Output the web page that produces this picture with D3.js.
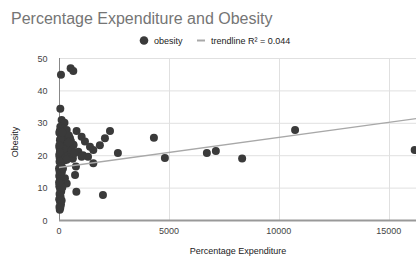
<!DOCTYPE html>
<html>
<head>
<meta charset="utf-8">
<script src="https://cdn.jsdelivr.net/npm/d3@7"></script>
<style>
  html, body { margin: 0; padding: 0; background: #fff; }
  svg { display: block; font-family: "Liberation Sans", Arial, sans-serif; }
</style>
</head>
<body>
<div id="chart"></div>
<script>
// chart data
const expenditure = [
    // top outliers
    90, 530, 650, 60, 120, 250, 60, 180,
    // diagonal strand and scattered mid points
    350, 800, 1030, 1180, 1410, 1560, 1860, 2090, 2320, 2680, 500, 650, 880, 1090, 1320, 1560,
    620, 1030, 730, 770, 790, 2000, 350, 270, 110,
    // dense cluster
    10, 20, 30, 45, 55, 70, 80, 95, 110, 125, 140, 160, 175, 190, 210, 230, 250, 270, 290, 310,
    330, 360, 390, 420, 450, 480, 510, 540, 580, 620, 660, 700, 15, 35, 60, 85, 150, 200, 240,
    350, 440, 15, 25, 40,
    // low column
    5, 20, 40, 10, 60, 30, 80, 15, 50, 100, 25, 70, 10, 45, 90, 20, 35, 120, 150, 5, 130, 60,
    100, 180,
    // far right
    4318, 4818, 6727, 7136, 8332, 10741, 16182
];
const obesity = [
    44.8, 46.8, 46.0, 34.3, 30.9, 30.0, 28.8, 28.2,
    27.8, 27.5, 25.7, 24.2, 22.6, 21.6, 23.1, 25.2, 27.5, 20.7, 25.2, 23.1, 21.1, 20.0, 19.5, 17.5,
    19.0, 19.5, 13.9, 16.5, 8.7, 7.7, 11.3, 12.9, 13.0,
    20.1, 22.4, 19.2, 24.6, 21.3, 18.5, 23.8, 20.7, 25.4, 22.0, 19.6, 24.1, 21.7, 26.3, 18.9, 23.0,
    20.4, 25.8, 22.6, 19.8, 24.9, 21.1, 23.6, 20.0, 26.1, 22.3, 19.4, 24.4, 21.5, 19.0, 23.2, 20.6,
    26.9, 27.5, 25.0, 18.2, 27.0, 21.9, 18.4, 18.6, 23.9, 23.0, 18.0, 21.0,
    16.0, 15.2, 14.4, 13.6, 12.8, 12.0, 11.2, 10.4, 9.6, 8.8, 8.0, 7.2, 6.4, 5.6, 4.8, 4.0, 3.2,
    6.0, 10.0, 11.5, 14.8, 3.8, 16.7, 15.9,
    25.4, 19.1, 20.7, 21.3, 19.0, 27.8, 21.6
];
const xGridTicks = [5000, 10000, 15000, 20000];
const xTickLabels = [0, 5000, 10000, 15000];
const yTicks = [0, 10, 20, 30, 40, 50];
// trendline as shown in the legend
const trendIntercept = 16.2;
const trendSlope = 0.00093;
const trendLabel = 'trendline R\u00b2 = 0.044';

const W = 416, H = 260;
const margin = { left: 59, top: 58, bottom: 40 };
const plotBottom = H - margin.bottom;

// the plot runs past the right edge of the picture, as in the reference
const x = d3.scaleLinear().domain([0, 20000]).range([margin.left, margin.left + 439.6]);
const y = d3.scaleLinear().domain([0, 50]).range([plotBottom, margin.top]);

const svg = d3.select('#chart').append('svg')
    .attr('width', W).attr('height', H);

svg.append('text')
    .attr('x', 11).attr('y', 23.5)
    .attr('font-size', 16).attr('fill', '#757575')
    .text('Percentage Expenditure and Obesity');

// gridlines
svg.append('g').selectAll('line.hgrid').data(yTicks.filter(d => d > 0)).enter()
    .append('line').attr('class', 'hgrid')
    .attr('x1', x(0)).attr('x2', x(20000))
    .attr('y1', d => y(d) + 0.5).attr('y2', d => y(d) + 0.5)
    .attr('stroke', '#e0e0e0');
svg.append('g').selectAll('line.vgrid').data(xGridTicks).enter()
    .append('line').attr('class', 'vgrid')
    .attr('x1', d => Math.round(x(d)) + 0.5).attr('x2', d => Math.round(x(d)) + 0.5)
    .attr('y1', y(50)).attr('y2', y(0))
    .attr('stroke', '#e0e0e0');

// zero line and base axis
svg.append('line')
    .attr('x1', x(0) + 0.5).attr('x2', x(0) + 0.5)
    .attr('y1', y(50)).attr('y2', y(0))
    .attr('stroke', '#888');
svg.append('line')
    .attr('x1', x(0)).attr('x2', x(20000))
    .attr('y1', y(0) + 0.5).attr('y2', y(0) + 0.5)
    .attr('stroke', '#999').attr('stroke-width', 2);

// tick labels
svg.append('g').selectAll('text').data(yTicks).enter().append('text')
    .attr('x', 47.5).attr('y', d => y(d) + 3.5)
    .attr('text-anchor', 'end').attr('font-size', 9).attr('fill', '#444')
    .text(d => d);
svg.append('g').selectAll('text').data(xTickLabels).enter().append('text')
    .attr('x', d => x(d)).attr('y', 233.5)
    .attr('text-anchor', 'middle').attr('font-size', 9).attr('fill', '#444')
    .text(d => d);

// axis titles
svg.append('text')
    .attr('x', 238).attr('y', 253.5)
    .attr('text-anchor', 'middle').attr('font-size', 9).attr('fill', '#222')
    .text('Percentage Expenditure');
svg.append('text')
    .attr('transform', `translate(18,142) rotate(-90)`)
    .attr('text-anchor', 'middle').attr('font-size', 9).attr('fill', '#222')
    .text('Obesity');

// points
const pts = expenditure.map((v, i) => ({ ex: v, ob: obesity[i] }));
svg.append('g').selectAll('circle').data(pts).enter().append('circle')
    .attr('cx', d => x(d.ex)).attr('cy', d => y(d.ob))
    .attr('r', 4).attr('fill', '#3a3a3a');

// trendline
svg.append('line')
    .attr('x1', x(0)).attr('y1', y(trendIntercept))
    .attr('x2', x(20000)).attr('y2', y(trendIntercept + trendSlope * 20000))
    .attr('stroke', '#a8a8a8').attr('stroke-width', 1.3);

// legend
const lg = svg.append('g');
lg.append('circle').attr('cx', 144).attr('cy', 40.5).attr('r', 4.3).attr('fill', '#3a3a3a');
lg.append('text').attr('x', 154).attr('y', 43.5).attr('font-size', 9).attr('fill', '#222').text('obesity');
lg.append('line').attr('x1', 197).attr('x2', 205).attr('y1', 40.5).attr('y2', 40.5)
    .attr('stroke', '#a8a8a8').attr('stroke-width', 2);
lg.append('text').attr('x', 211).attr('y', 43.5).attr('font-size', 9).attr('fill', '#222').text(trendLabel);
</script>
</body>
</html>
